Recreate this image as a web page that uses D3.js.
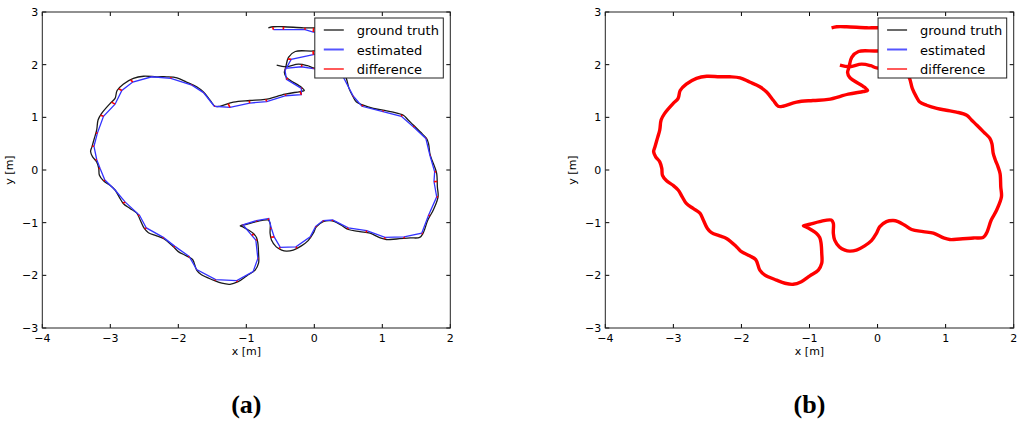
<!DOCTYPE html>
<html><head><meta charset="utf-8">
<script src="https://cdn.jsdelivr.net/npm/d3@7"></script>
<style>body{margin:0;background:#fff}svg{display:block}</style>
</head><body>
<svg id="c" width="1024" height="430"></svg>
<script>
// ---- data (metres) ----
const gtX = [-0.553,-0.41,-0.235,-0.10,-0.015,0.25,0.42,0.47,0.51,0.57,0.62,0.72,0.87,1.01,1.16,1.31,1.38,1.46,1.56,1.65,1.68,1.70,1.73,1.77,1.80,1.81,1.82,1.75,1.67,1.60,1.55,1.41,1.21,1.06,0.97,0.82,0.67,0.50,0.40,0.30,0.23,0.13,0.03,-0.015,-0.09,-0.19,-0.31,-0.41,-0.48,-0.56,-0.63,-0.65,-0.65,-0.68,-0.85,-0.995,-1.09,-1.05,-0.97,-0.90,-0.85,-0.83,-0.82,-0.82,-0.87,-0.995,-1.12,-1.24,-1.36,-1.485,-1.66,-1.73,-1.79,-1.88,-2.00,-2.07,-2.22,-2.32,-2.44,-2.50,-2.56,-2.61,-2.71,-2.81,-2.87,-2.93,-3.005,-3.10,-3.16,-3.17,-3.20,-3.26,-3.29,-3.27,-3.235,-3.20,-3.18,-3.13,-3.005,-2.93,-2.90,-2.81,-2.66,-2.51,-2.32,-2.17,-2.02,-1.88,-1.73,-1.63,-1.53,-1.46,-1.39,-1.19,-0.95,-0.725,-0.43,-0.21,-0.147,-0.19,-0.41,-0.44,-0.42,-0.38,-0.28,-0.015,0.30,0.45,0.30,-0.015,-0.16,-0.456,-0.60,-0.676];
const gtY = [1.99,1.96,2.01,1.98,1.94,1.92,1.85,1.74,1.55,1.39,1.29,1.23,1.17,1.135,1.10,1.04,0.95,0.85,0.72,0.60,0.50,0.31,0.19,0.06,-0.07,-0.32,-0.51,-0.76,-0.95,-1.20,-1.28,-1.29,-1.31,-1.32,-1.29,-1.20,-1.17,-1.13,-1.05,-0.98,-0.96,-0.98,-1.08,-1.20,-1.34,-1.44,-1.52,-1.54,-1.52,-1.46,-1.33,-1.20,-1.01,-0.95,-0.98,-1.03,-1.06,-1.08,-1.14,-1.20,-1.28,-1.39,-1.58,-1.77,-1.90,-2.01,-2.12,-2.17,-2.15,-2.09,-1.99,-1.90,-1.70,-1.63,-1.55,-1.46,-1.30,-1.25,-1.19,-1.11,-0.95,-0.82,-0.73,-0.635,-0.51,-0.38,-0.29,-0.205,-0.10,0.03,0.155,0.25,0.35,0.44,0.60,0.76,0.95,1.07,1.26,1.36,1.51,1.63,1.74,1.78,1.77,1.77,1.75,1.67,1.58,1.48,1.32,1.21,1.21,1.29,1.32,1.34,1.44,1.49,1.51,1.57,1.76,1.85,1.95,2.14,2.25,2.26,2.30,2.50,2.68,2.70,2.70,2.72,2.72,2.70];
const estX = [-0.43,-0.19,-0.015,0.25,0.42,0.574,0.70,1.01,1.28,1.456,1.64,1.70,1.77,1.76,1.80,1.68,1.58,1.32,1.04,0.77,0.50,0.27,0.13,0.02,-0.06,-0.27,-0.50,-0.59,-0.63,-0.67,-0.85,-1.05,-0.92,-0.86,-0.83,-0.90,-1.14,-1.45,-1.73,-1.84,-2.05,-2.22,-2.47,-2.57,-2.78,-2.93,-3.08,-3.15,-3.20,-3.24,-3.19,-3.10,-2.93,-2.83,-2.67,-2.39,-2.11,-1.80,-1.63,-1.47,-1.24,-0.95,-0.70,-0.42,-0.19,-0.19,-0.41,-0.43,-0.34,-0.015,0.30,0.30,-0.015,-0.137,-0.456,-0.60];
const estY = [1.93,1.96,1.925,1.88,1.78,1.40,1.21,1.11,1.02,0.82,0.60,0.28,-0.035,-0.22,-0.51,-0.86,-1.20,-1.27,-1.28,-1.15,-1.10,-0.95,-0.96,-1.07,-1.27,-1.46,-1.47,-1.27,-1.11,-0.92,-0.96,-1.04,-1.24,-1.33,-1.68,-1.93,-2.10,-2.08,-1.89,-1.64,-1.45,-1.28,-1.10,-0.86,-0.61,-0.38,-0.19,0.03,0.20,0.45,0.70,1.02,1.25,1.51,1.67,1.77,1.74,1.61,1.47,1.21,1.19,1.27,1.30,1.41,1.43,1.55,1.72,1.89,2.10,2.19,2.30,2.60,2.62,2.665,2.665,2.665];
const xTicks = [-4,-3,-2,-1,0,1,2];
const yTicks = [-3,-2,-1,0,1,2,3];
const legendLabels = ["ground truth","estimated","difference"];
const panelLabels = ["a","b"];

const gt = gtX.map((x,i)=>[x,gtY[i]]);
const est = estX.map((x,i)=>[x,estY[i]]);

// nearest point on ground-truth polyline for each estimate
function nearest(p){
  let best=null,bd=1e9;
  for(let i=0;i<gt.length-1;i++){
    const a=gt[i],b=gt[i+1],dx=b[0]-a[0],dy=b[1]-a[1];
    let t=((p[0]-a[0])*dx+(p[1]-a[1])*dy)/(dx*dx+dy*dy);
    t=Math.max(0,Math.min(1,t));
    const q=[a[0]+t*dx,a[1]+t*dy],d=(q[0]-p[0])**2+(q[1]-p[1])**2;
    if(d<bd){bd=d;best=q;}
  }
  return best;
}
const diffs = est.map(p=>[p,nearest(p)]);

const svg = d3.select("#c");
const font = "DejaVu Sans, sans-serif";
const colors = {gt:"#1a1a1a", est:"#3333ff", diff:"#ff0000"};

function panel(left, right, idx){
  const x = d3.scaleLinear().domain([-4,2]).range([left,right]);
  const y = d3.scaleLinear().domain([-3,3]).range([328,12]);
  const g = svg.append("g");
  const clipId = "clip"+idx;
  g.append("clipPath").attr("id",clipId).append("rect")
    .attr("x",left).attr("y",12).attr("width",right-left).attr("height",316);
  const plot = g.append("g").attr("clip-path",`url(#${clipId})`);
  const smooth = d3.line().x(d=>x(d[0])).y(d=>y(d[1])).curve(d3.curveCatmullRom.alpha(0.5));
  const poly = d3.line().x(d=>x(d[0])).y(d=>y(d[1]));
  if(idx===0){
    plot.append("path").attr("d",smooth(gt)).attr("fill","none").attr("stroke",colors.gt).attr("stroke-width",1.3);
    plot.append("path").attr("d",poly(est)).attr("fill","none").attr("stroke",colors.est).attr("stroke-width",1.3);
    plot.selectAll("line.d").data(diffs).join("line")
      .attr("x1",d=>x(d[0][0])).attr("y1",d=>y(d[0][1]))
      .attr("x2",d=>x(d[1][0])).attr("y2",d=>y(d[1][1]))
      .attr("stroke",colors.diff).attr("stroke-width",1.6);
  } else {
    plot.append("path").attr("d",smooth(gt)).attr("fill","none").attr("stroke",colors.diff).attr("stroke-width",3.4);
  }
  // axes: ticks inside on all sides
  const ax = g.append("g").attr("font-family",font).attr("font-size",11).attr("fill","#000");
  xTicks.forEach(t=>{
    ax.append("line").attr("x1",x(t)).attr("x2",x(t)).attr("y1",328).attr("y2",324).attr("stroke","#000");
    ax.append("line").attr("x1",x(t)).attr("x2",x(t)).attr("y1",12).attr("y2",16).attr("stroke","#000");
    ax.append("text").attr("x",x(t)).attr("y",342).attr("text-anchor","middle").text(t<0?"\u2212"+(-t):t);
  });
  yTicks.forEach(t=>{
    ax.append("line").attr("y1",y(t)).attr("y2",y(t)).attr("x1",left).attr("x2",left+4).attr("stroke","#000");
    ax.append("line").attr("y1",y(t)).attr("y2",y(t)).attr("x1",right).attr("x2",right-4).attr("stroke","#000");
    ax.append("text").attr("x",left-4).attr("y",y(t)+4).attr("text-anchor","end").text(t<0?"\u2212"+(-t):t);
  });
  g.append("rect").attr("x",left).attr("y",12).attr("width",right-left).attr("height",316)
    .attr("fill","none").attr("stroke","#222").attr("stroke-width",1);
  ax.append("text").attr("x",(left+right)/2).attr("y",355).attr("text-anchor","middle").text("x [m]");
  ax.append("text").attr("transform",`translate(${left-29},${y(0)}) rotate(-90)`).attr("text-anchor","middle").text("y [m]");
  // legend
  const lx = x(0)+0.5, ly = 18;
  const lg = g.append("g");
  lg.append("rect").attr("x",lx).attr("y",ly).attr("width",right-7-lx).attr("height",60)
    .attr("fill","#fff").attr("stroke","#222").attr("stroke-width",1);
  const lc = [colors.gt, "#5555ff", colors.diff];
  legendLabels.forEach((s,i)=>{
    const yy = ly+12+i*19.5;
    lg.append("line").attr("x1",lx+9).attr("x2",lx+29).attr("y1",yy).attr("y2",yy)
      .attr("stroke",lc[i]).attr("stroke-width",i===1?2:1.3);
    lg.append("text").attr("x",lx+42).attr("y",yy+5).attr("font-family",font).attr("font-size",13).text(s);
  });
  svg.append("text").attr("x",(left+right)/2).attr("y",413).attr("text-anchor","middle")
    .attr("font-family","Liberation Serif, serif").attr("font-size",26).attr("font-weight","bold")
    .text("("+panelLabels[idx]+")");
}
panel(42.3,450.3,0);
panel(605.3,1013.7,1);
</script>
</body></html>
